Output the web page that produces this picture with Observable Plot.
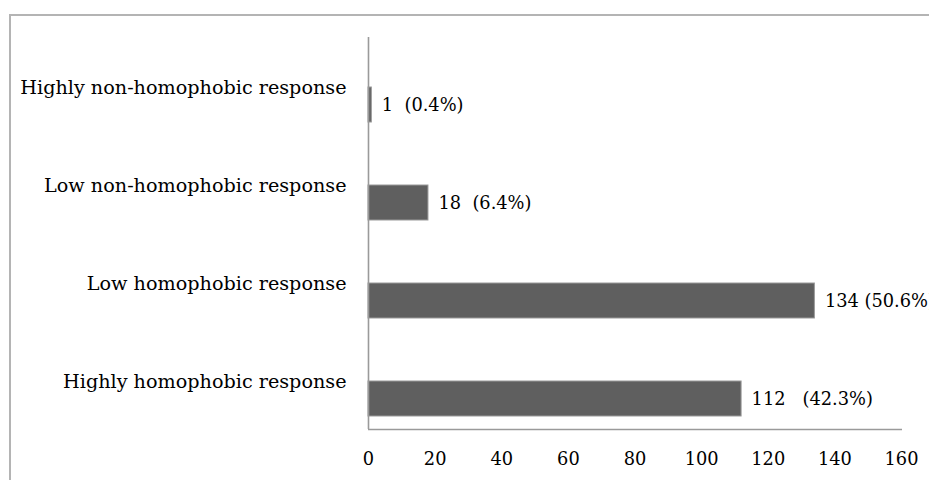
<!DOCTYPE html>
<html>
<head>
<meta charset="utf-8">
<script src="https://cdn.jsdelivr.net/npm/d3@7"></script>
<script src="https://cdn.jsdelivr.net/npm/@observablehq/plot@0.6"></script>
<style>
  html, body { margin: 0; padding: 0; background: #fff; }
  #wrap { position: relative; width: 929px; height: 480px; overflow: hidden; background: #fff; }
  #frame { position: absolute; left: 9px; top: 14px; width: 960px; height: 500px;
           border-top: 2px solid #b4b4b4; border-left: 2px solid #b4b4b4; box-sizing: border-box; }
  #chart { position: absolute; left: 0; top: 0; }
</style>
</head>
<body>
<div id="wrap"><div id="frame"></div><div id="chart"></div></div>
<script>
const categories = [
  "Highly non-homophobic response",
  "Low non-homophobic response",
  "Low homophobic response",
  "Highly homophobic response"
];
const counts = [1, 18, 134, 112];
const valueLabels = [
  "1\u00a0\u00a0(0.4%)",
  "18\u00a0\u00a0(6.4%)",
  "134 (50.6%)",
  "112\u00a0\u00a0\u00a0(42.3%)"
];
const xTicks = [0, 20, 40, 60, 80, 100, 120, 140, 160];

const data = categories.map((c, i) => ({category: c, count: counts[i], label: valueLabels[i]}));

const chart = Plot.plot({
  width: 929,
  height: 480,
  marginLeft: 368,
  marginRight: 28,
  marginTop: 37,
  marginBottom: 51,
  style: {fontFamily: "'DejaVu Serif', serif", background: "transparent", color: "#000"},
  x: {domain: [0, 160], label: null},
  y: {domain: categories, padding: 0, label: null},
  marks: [
    Plot.barX(data, {x: "count", y: "category", fill: "#5f5f5f", stroke: "#9a9a9a", strokeWidth: 1,
      insetTop: 50, insetBottom: 13}),
    Plot.ruleX([0], {stroke: "#9a9a9a", strokeWidth: 1.6}),
    Plot.ruleY([categories[3]], {y: d => d, x1: 0, x2: 160.3, dy: 49, stroke: "#9a9a9a", strokeWidth: 1.6}),
    Plot.axisX({ticks: xTicks, tickSize: 0, tickPadding: 23, fontSize: 17.8, fill: "#000", label: null}),
    Plot.axisY({tickSize: 0, tickPadding: 22, fontSize: 19.2, fill: "#000", dy: 1, label: null}),
    Plot.text(data, {x: "count", y: "category", text: "label", dx: 10, dy: 18.5, textAnchor: "start",
      fontSize: 17.8, fill: "#000"})
  ]
});
document.getElementById("chart").appendChild(chart);
</script>
</body>
</html>
